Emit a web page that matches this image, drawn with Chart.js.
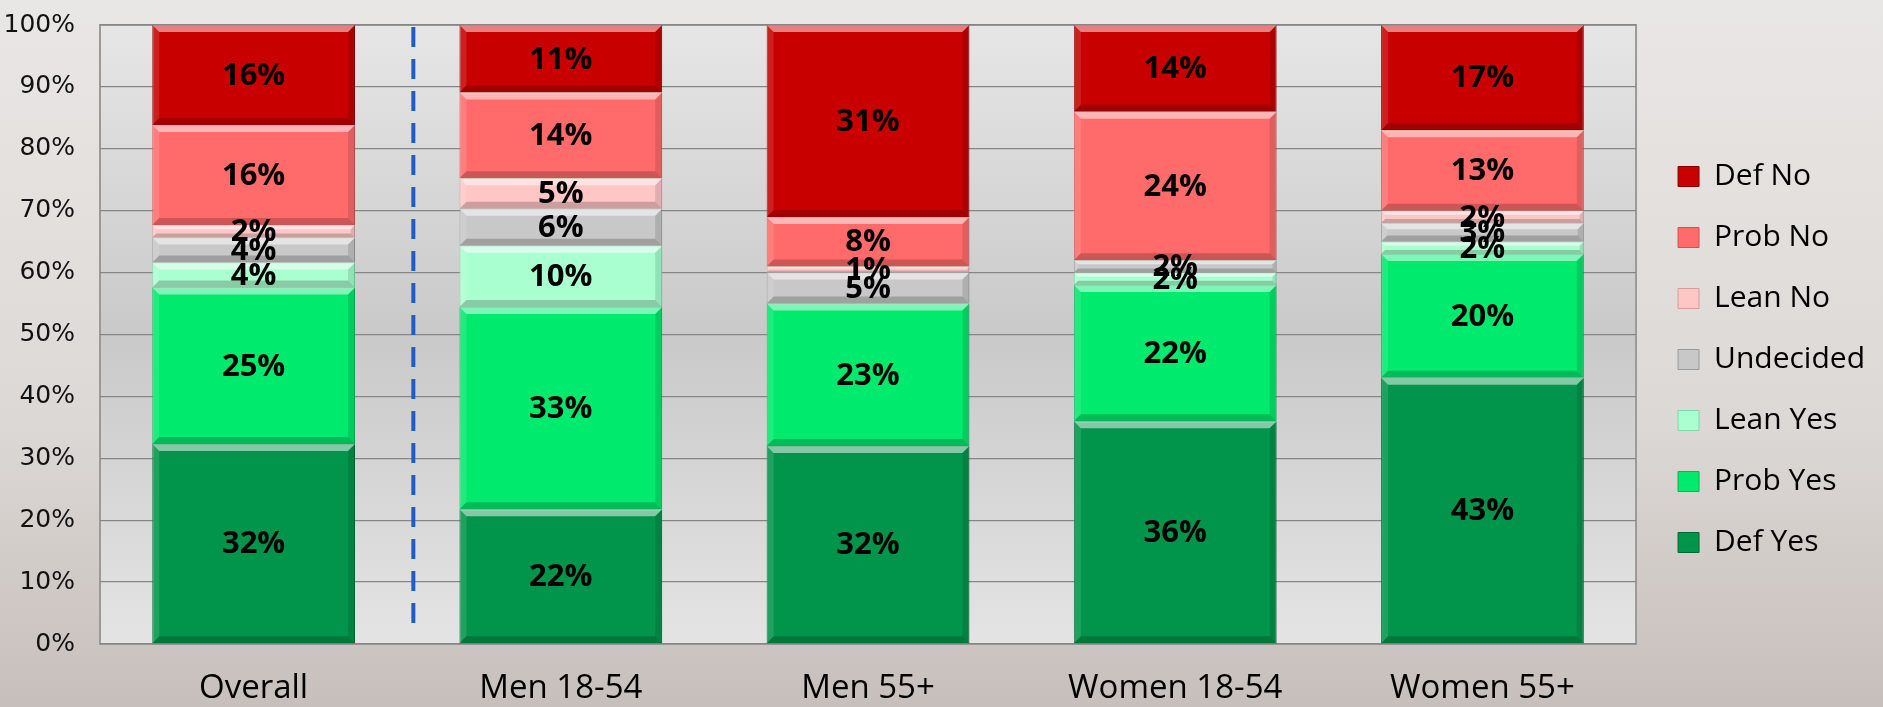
<!DOCTYPE html>
<html>
<head>
<meta charset="utf-8">
<script src="https://cdn.jsdelivr.net/npm/chart.js@4.4.1/dist/chart.umd.min.js"></script>
<style>
  html, body { margin: 0; padding: 0; background: #e2dfdc; overflow: hidden; }
  #wrap { width: 1883px; height: 707px; position: relative; }
  canvas { display: block; }
</style>
</head>
<body>
<div id="wrap"><canvas id="chart"></canvas></div>
<script>
// Categorías del eje X
const categories = ["Overall", "Men 18-54", "Men 55+", "Women 18-54", "Women 55+"];

// Series (en %), de abajo hacia arriba
const defYes    = [32, 22, 32, 36, 43];
const probYes   = [25, 33, 23, 22, 20];
const leanYes   = [4, 10, 0, 2, 2];
const undecided = [4, 6, 5, 2, 3];
const leanNo    = [2, 5, 1, 0, 2];
const probNo    = [16, 14, 8, 24, 13];
const defNo     = [16, 11, 31, 14, 17];

// Etiquetas del eje Y
const yTickLabels = ["0%", "10%", "20%", "30%", "40%", "50%", "60%", "70%", "80%", "90%", "100%"];

// Nombres y colores de cada serie
const seriesNames = ["Def Yes", "Prob Yes", "Lean Yes", "Undecided", "Lean No", "Prob No", "Def No"];
const seriesData  = [defYes, probYes, leanYes, undecided, leanNo, probNo, defNo];
const fillColors  = ["#00954a", "#00ea6e", "#aaffd0", "#c8c8c8", "#ffc6c6", "#ff6b6b", "#c80000"];
const edgeColors  = ["#006b33", "#00b855", "#7fd9a8", "#9a9a9a", "#d99a9a", "#d84f4f", "#8c0000"];

// Separador punteado entre "Overall" y el resto (en unidades del eje X)
const DIVIDER_AT = 0.52;
// Ajuste del ancho / posición de la leyenda
const LEGEND_EXTRA = 19;
const LEGEND_SHIFT = 11;
const LEGEND_UP = 6.5;

// Es un gráfico 100% apilado: normalizo cada columna
const totals = categories.map((_, j) => seriesData.reduce((s, arr) => s + arr[j], 0));

const datasets = seriesNames.map((name, i) => ({
  label: name,
  raw: seriesData[i],
  data: seriesData[i].map((v, j) => (v / totals[j]) * 100),
  backgroundColor: fillColors[i],
  borderColor: edgeColors[i],
  borderWidth: 1,
  categoryPercentage: 1,
  barPercentage: 0.66,
}));

// Fondo de la página y del área de trazado
const backdrop = {
  id: "backdrop",
  beforeDraw(chart) {
    const { ctx, width, height, chartArea: a } = chart;
    ctx.save();
    const g = ctx.createLinearGradient(0, 0, 0, height);
    g.addColorStop(0, "#e9e7e5");
    g.addColorStop(0.6, "#dcd8d5");
    g.addColorStop(1, "#c7bfbb");
    ctx.fillStyle = g;
    ctx.fillRect(0, 0, width, height);

    const p = ctx.createLinearGradient(0, a.top, 0, a.bottom);
    p.addColorStop(0, "#e6e6e6");
    p.addColorStop(0.5, "#c9c9c9");
    p.addColorStop(1, "#e4e4e4");
    ctx.fillStyle = p;
    ctx.fillRect(a.left, a.top, a.right - a.left, a.bottom - a.top);
    ctx.strokeStyle = "#9a9a9a";
    ctx.lineWidth = 2;
    ctx.strokeRect(a.left, a.top, a.right - a.left, a.bottom - a.top);
    ctx.restore();
  },
  beforeDatasetsDraw(chart) {
    // línea azul punteada
    const { ctx, chartArea: a } = chart;
    const x = chart.scales.x.getPixelForValue(DIVIDER_AT);
    ctx.save();
    ctx.strokeStyle = "#1f5cc8";
    ctx.lineWidth = 4;
    ctx.setLineDash([20, 12]);
    ctx.beginPath();
    ctx.moveTo(x, a.top + 2);
    ctx.lineTo(x, a.bottom - 14);
    ctx.stroke();
    ctx.restore();
  },
};

// Biselado de las barras + etiquetas de valor
const barDecor = {
  id: "barDecor",
  afterDatasetsDraw(chart) {
    const { ctx } = chart;
    ctx.save();
    chart.data.datasets.forEach((ds, i) => {
      chart.getDatasetMeta(i).data.forEach((bar, j) => {
        if (!ds.raw[j]) return;
        const { x, y, base, width } = bar.getProps(["x", "y", "base", "width"], true);
        const l = x - width / 2, r = x + width / 2;
        const t = Math.min(y, base), b = Math.max(y, base);
        const e = Math.min(7, (b - t) / 3);
        // luz arriba
        ctx.fillStyle = "rgba(255,255,255,0.5)";
        ctx.beginPath();
        ctx.moveTo(l, t); ctx.lineTo(r, t); ctx.lineTo(r - e, t + e); ctx.lineTo(l + e, t + e);
        ctx.closePath(); ctx.fill();
        // lado izquierdo
        ctx.fillStyle = "rgba(255,255,255,0.12)";
        ctx.beginPath();
        ctx.moveTo(l, t); ctx.lineTo(l + e, t + e); ctx.lineTo(l + e, b - e); ctx.lineTo(l, b);
        ctx.closePath(); ctx.fill();
        // lado derecho
        ctx.fillStyle = "rgba(0,0,0,0.12)";
        ctx.beginPath();
        ctx.moveTo(r, t); ctx.lineTo(r - e, t + e); ctx.lineTo(r - e, b - e); ctx.lineTo(r, b);
        ctx.closePath(); ctx.fill();
        // sombra abajo
        ctx.fillStyle = "rgba(0,0,0,0.2)";
        ctx.beginPath();
        ctx.moveTo(l, b); ctx.lineTo(r, b); ctx.lineTo(r - e, b - e); ctx.lineTo(l + e, b - e);
        ctx.closePath(); ctx.fill();
      });
    });

    // etiquetas de %
    ctx.fillStyle = "#000";
    ctx.font = "bold 31px 'Open Sans'";
    ctx.textAlign = "center";
    ctx.textBaseline = "middle";
    chart.data.datasets.forEach((ds, i) => {
      chart.getDatasetMeta(i).data.forEach((bar, j) => {
        if (!ds.raw[j]) return;
        const { x, y, base } = bar.getProps(["x", "y", "base"], true);
        ctx.fillText(ds.raw[j] + "%", x, (y + base) / 2 + 1);
      });
    });
    ctx.restore();
  },
};

// Ajusto el ancho de la leyenda (el área del gráfico queda más estrecha)
const legendFit = {
  id: "legendFit",
  afterInit(chart) {
    const lg = chart.legend;
    const fit = lg.fit;
    lg.fit = function () {
      fit.call(this);
      this.width += LEGEND_EXTRA;
    };
  },
  afterLayout(chart) {
    const lg = chart.legend;
    lg.left += LEGEND_SHIFT;
    lg.right += LEGEND_SHIFT;
    lg.top -= LEGEND_UP;
    lg.bottom -= LEGEND_UP;
  },
};

new Chart(document.getElementById("chart"), {
  type: "bar",
  data: { labels: categories, datasets },
  plugins: [backdrop, barDecor, legendFit],
  options: {
    responsive: true,
    maintainAspectRatio: false,
    animation: false,
    layout: { padding: { top: 25, bottom: 0, left: 0, right: 0 } },
    scales: {
      x: {
        stacked: true,
        grid: { display: false, drawTicks: false },
        border: { display: false },
        ticks: {
          color: "#000",
          padding: 25,
          font: { family: "'Open Sans'", size: 33 },
        },
        afterFit(scale) { scale.height = 63; },
      },
      y: {
        stacked: true,
        min: 0,
        max: 100,
        grid: { color: "#868686", lineWidth: 1.3, drawTicks: false },
        border: { display: false },
        ticks: {
          stepSize: 10,
          color: "#111",
          padding: 25,
          font: { family: "'DejaVu Sans'", size: 25 },
          callback: (v, i) => yTickLabels[i],
        },
        afterFit(scale) {
          scale.width = 100;
          scale.paddingTop = 0;
          scale.paddingBottom = 0;
        },
      },
    },
    plugins: {
      tooltip: { enabled: false },
      legend: {
        position: "right",
        reverse: true,
        labels: {
          color: "#000",
          boxWidth: 21,
          boxHeight: 20,
          padding: 31,
          font: { family: "'Open Sans'", size: 30 },
        },
      },
    },
  },
});
</script>
</body>
</html>
